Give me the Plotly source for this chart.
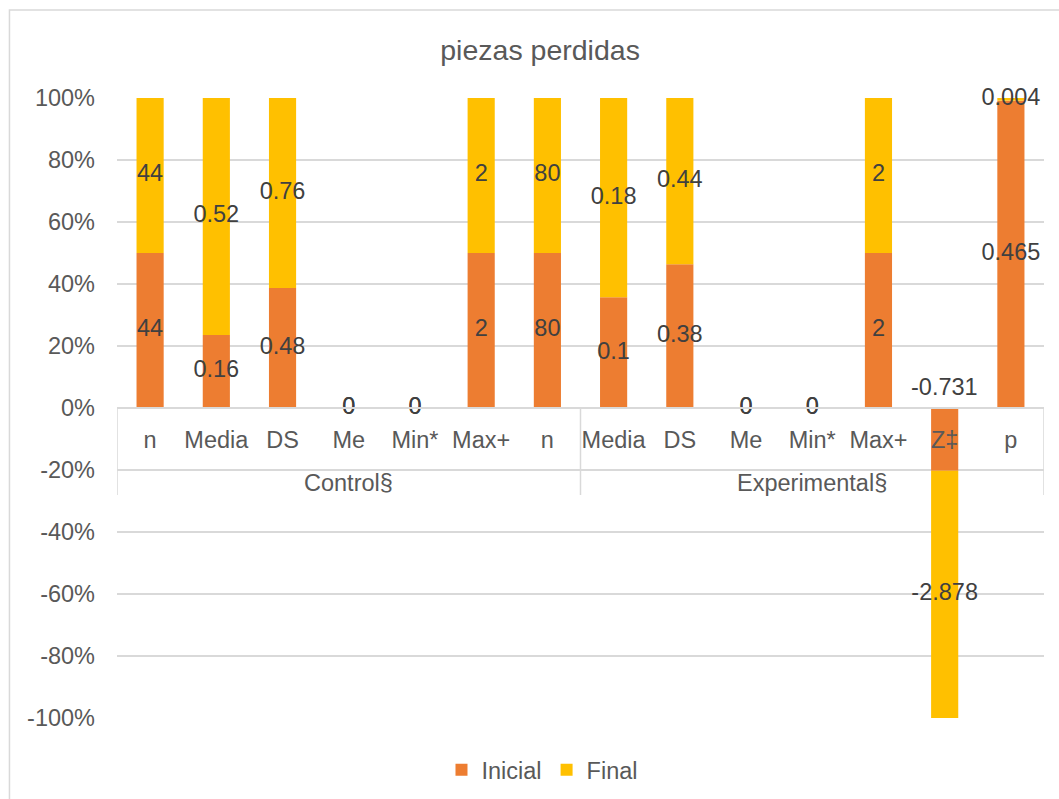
import plotly.graph_objects as go

# Statistic per column and the group each column belongs to
groups = ["Control§"] * 7 + ["Experimental§"] * 7
stats = ["n", "Media", "DS", "Me", "Min*", "Max+", "n",
         "Media", "DS", "Me", "Min*", "Max+", "Z‡", "p"]

inicial = [44, 0.16, 0.48, 0, 0, 2, 80, 0.1, 0.38, 0, 0, 2, -0.731, 0.465]
final = [44, 0.52, 0.76, 0, 0, 2, 80, 0.18, 0.44, 0, 0, 2, -2.878, 0.004]

y_ticks = list(range(-100, 101, 20))

ORANGE = "#ED7D31"
GOLD = "#FFC000"
GRID = "#D9D9D9"
TXT = "#595959"
LBL = "#404040"
FONT = "Liberation Sans, Arial, sans-serif"
FS = 23.5

xs = list(range(len(stats)))


def fmt(v):
    return f"{v:g}"


# Segment label positions in a 100 % stack where positive and negative
# values are normalised separately (the same rule barnorm uses)
lab_x, lab_y, lab_t = [], [], []
neg_first = []
for xi, a, b in zip(xs, inicial, final):
    pos_sum = sum(v for v in (a, b) if v > 0)
    neg_sum = sum(-v for v in (a, b) if v < 0)
    base_p, base_n = 0.0, 0.0
    for i, v in enumerate((a, b)):
        if v > 0:
            h = v / pos_sum * 100
            lab_x.append(xi); lab_y.append(base_p + h / 2); lab_t.append(fmt(v))
            base_p += h
        elif v < 0:
            h = -v / neg_sum * 100
            if i == 0:
                neg_first.append((xi, fmt(v)))
            else:
                lab_x.append(xi); lab_y.append(-(base_n + h / 2))
                lab_t.append(fmt(v))
            base_n += h
        else:
            lab_x.append(xi); lab_y.append(0); lab_t.append(fmt(v))

fig = go.Figure()
fig.add_trace(go.Bar(name="Inicial", x=xs, y=inicial, marker_color=ORANGE,
                     marker_line_width=0))
fig.add_trace(go.Bar(name="Final", x=xs, y=final, marker_color=GOLD,
                     marker_line_width=0))
fig.add_trace(go.Scatter(x=lab_x, y=lab_y, text=lab_t, mode="text",
                         textposition="middle center", showlegend=False,
                         cliponaxis=False,
                         textfont=dict(family=FONT, size=FS, color=LBL),
                         hoverinfo="skip"))

annotations = []
# first negative segment is labelled just above the category axis
for xi, t in neg_first:
    annotations.append(dict(x=xi, y=0, xref="x", yref="y", text=t,
                            showarrow=False, yshift=21, yanchor="middle",
                            font=dict(family=FONT, size=FS, color=LBL)))

# group labels under the statistic labels, plus the group dividers
shapes = []
uniq = []
for g in groups:
    if g not in uniq:
        uniq.append(g)
bounds = []
for g in uniq:
    idx = [i for i, gg in enumerate(groups) if gg == g]
    annotations.append(dict(x=sum(idx) / len(idx), y=0, xref="x", yref="y",
                            text=g, showarrow=False, yshift=-75,
                            yanchor="middle",
                            font=dict(family=FONT, size=FS, color=TXT)))
    bounds += [idx[0] - 0.5, idx[-1] + 0.5]
for bx in sorted(set(bounds)):
    shapes.append(dict(type="line", xref="x", yref="y", x0=bx, x1=bx,
                       ysizemode="pixel", yanchor=0, y0=0, y1=-87,
                       line=dict(color=GRID, width=1.5)))

# chart frame
shapes.append(dict(type="rect", xref="paper", yref="paper",
                   x0=-0.116, x1=1.2, y0=-0.3, y1=1.142,
                   line=dict(color=GRID, width=1.5),
                   fillcolor="rgba(0,0,0,0)", layer="below"))

fig.update_layout(
    width=1059, height=799,
    margin=dict(l=117, r=15, t=98, b=81, autoexpand=False),
    paper_bgcolor="white", plot_bgcolor="white",
    barmode="relative", barnorm="percent", bargap=0.59,
    font=dict(family=FONT, size=FS, color=TXT),
    title=dict(text="piezas perdidas", x=0.51, xanchor="center",
               xref="container", y=0.937, yanchor="middle",
               yref="container",
               font=dict(family=FONT, size=28.5, color=TXT)),
    legend=dict(orientation="h", x=0.459, xanchor="center", y=-0.084,
                yanchor="middle", font=dict(family=FONT, size=FS, color=TXT),
                traceorder="normal"),
    xaxis=dict(tickmode="array", tickvals=xs, ticktext=stats,
               range=[-0.5, len(stats) - 0.5],
               anchor="free", position=0.5,
               showline=True, linecolor=GRID, linewidth=1.5,
               showgrid=False, zeroline=False, ticks="",
               ticklabelstandoff=11,
               tickfont=dict(family=FONT, size=FS, color=TXT)),
    yaxis=dict(range=[-100, 100], tickmode="array", tickvals=y_ticks,
               ticktext=[f"{v}%" for v in y_ticks],
               showgrid=True, gridcolor=GRID, gridwidth=1.5,
               zeroline=False, showline=False, ticks="",
               ticklabelstandoff=21,
               tickfont=dict(family=FONT, size=FS, color=TXT)),
    annotations=annotations,
    shapes=shapes,
)

fig.write_html("out.html")
